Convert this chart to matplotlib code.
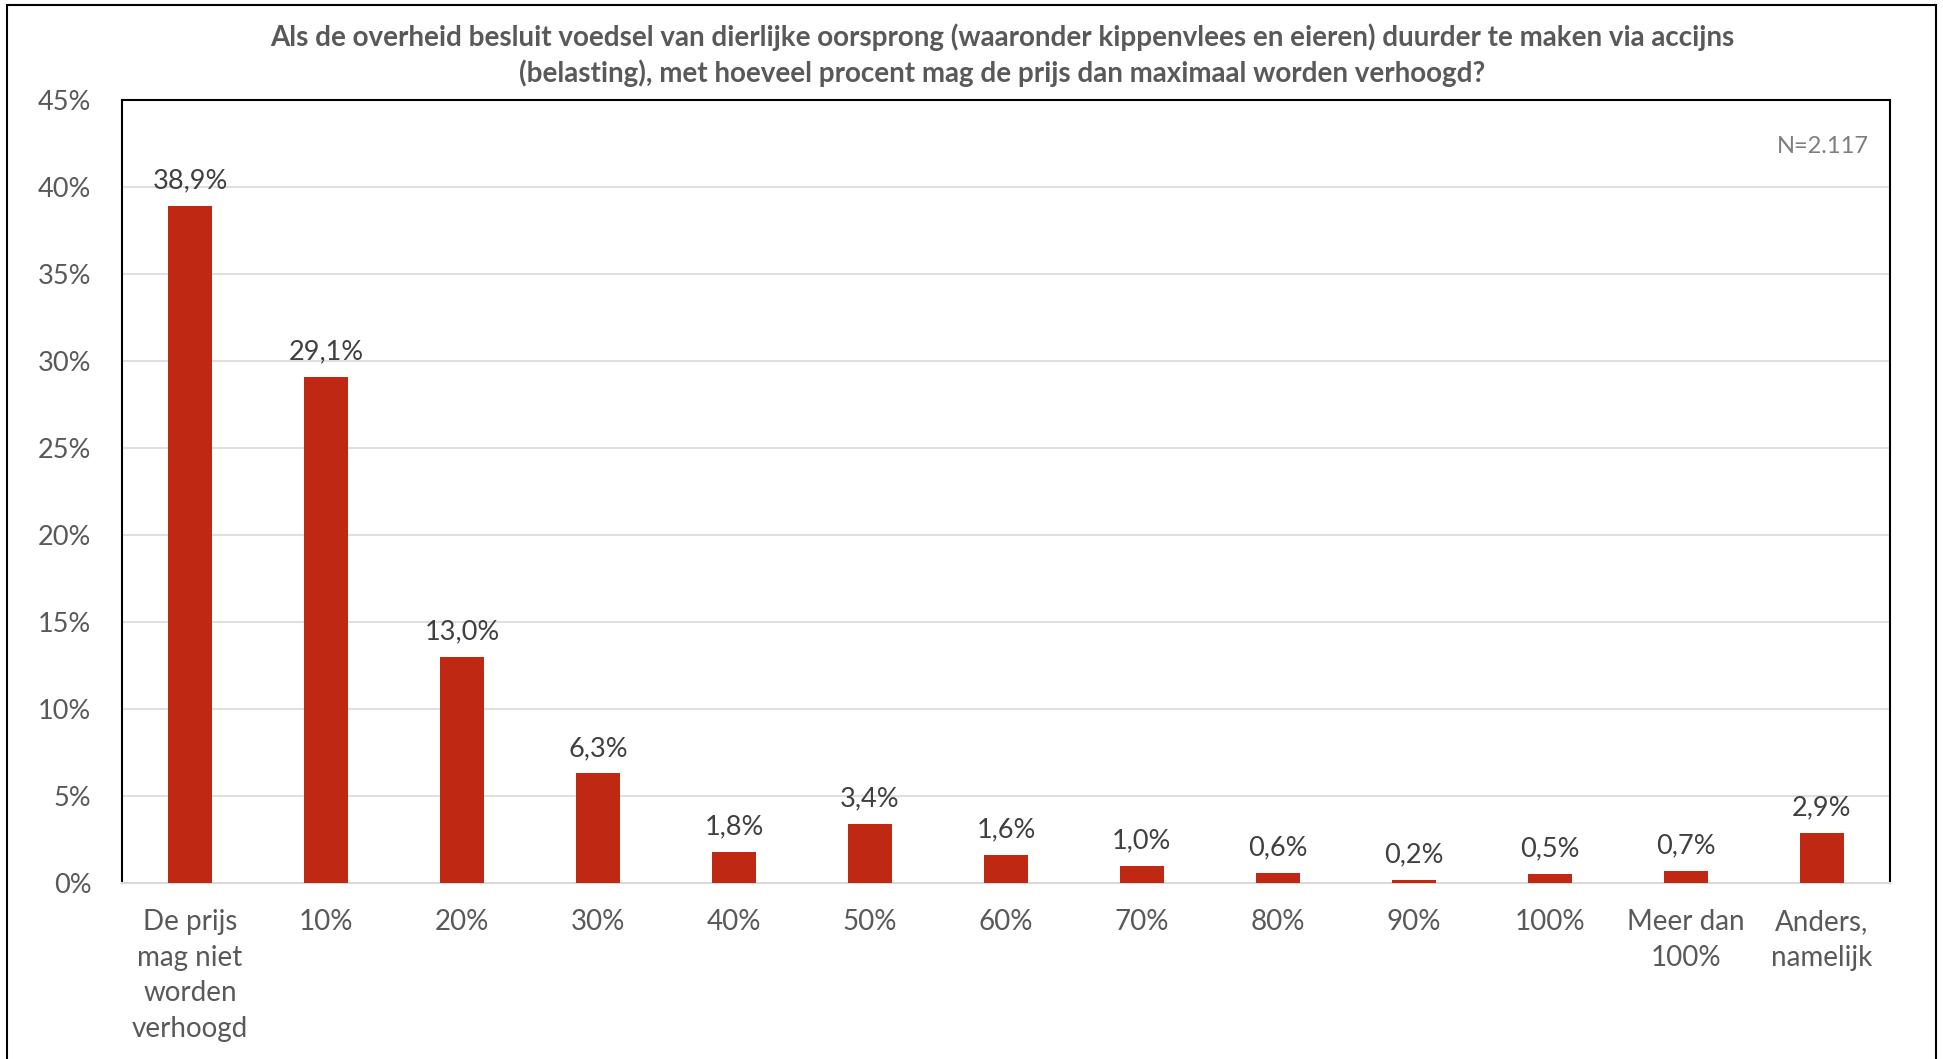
import matplotlib.pyplot as plt
import matplotlib.patches as mpatches
from matplotlib.ticker import MultipleLocator, FuncFormatter

plt.rcParams['font.family'] = ['Lato', 'DejaVu Sans']

categories = ["De prijs\nmag niet\nworden\nverhoogd", "10%", "20%", "30%", "40%", "50%",
              "60%", "70%", "80%", "90%", "100%", "Meer dan\n100%", "Anders,\nnamelijk"]
values = [38.9, 29.1, 13.0, 6.3, 1.8, 3.4, 1.6, 1.0, 0.6, 0.2, 0.5, 0.7, 2.9]
labels = ["38,9%", "29,1%", "13,0%", "6,3%", "1,8%", "3,4%", "1,6%", "1,0%",
          "0,6%", "0,2%", "0,5%", "0,7%", "2,9%"]

title = ("Als de overheid besluit voedsel van dierlijke oorsprong (waaronder kippenvlees en eieren) duurder te maken via accijns\n"
         "(belasting), met hoeveel procent mag de prijs dan maximaal worden verhoogd?")

bar_color = "#BF2812"
text_gray = "#595959"

fig = plt.figure(figsize=(19.43, 10.59), dpi=100)
ax = fig.add_axes([0.0628, 0.1662, 0.9099, 0.7394])

x = range(len(categories))
bars = ax.bar(x, values, width=0.33, color=bar_color, zorder=3)

for xi, v, lab in zip(x, values, labels):
    ax.annotate(lab, (xi, v), xytext=(0, 9), textcoords="offset points",
                ha="center", va="bottom", fontsize=19.5, color="#404040")

ax.set_xlim(-0.5, len(categories) - 0.5)
ax.set_ylim(0, 45)
ax.yaxis.set_major_locator(MultipleLocator(5))
ax.yaxis.set_major_formatter(FuncFormatter(lambda v, p: f"{int(v)}%"))
ax.set_xticks(list(x))
ax.set_xticklabels(categories, linespacing=1.45)
ax.tick_params(axis="both", length=0, labelcolor=text_gray)
ax.tick_params(axis="x", pad=19, labelsize=20)
ax.tick_params(axis="y", pad=22, labelsize=19.5)
ax.grid(axis="y", color="#D9D9D9", linewidth=1.2, zorder=0)

for side in ["left", "top", "right"]:
    ax.spines[side].set_color("black")
    ax.spines[side].set_linewidth(1.5)
ax.spines["bottom"].set_color("#D9D9D9")
ax.spines["bottom"].set_linewidth(1.5)

ax.text(0.988, 0.94, "N=2.117", transform=ax.transAxes, ha="right", va="center",
        fontsize=17, color="#7F7F7F")

fig.text(0.5157, 0.948, title, ha="center", va="center", fontsize=20,
         fontweight="bold", color=text_gray, linespacing=1.4)

border = mpatches.Rectangle((7 / 1943, -0.05), (1936 - 7) / 1943, 1.05 - 5 / 1059,
                            transform=fig.transFigure, fill=False,
                            edgecolor="black", linewidth=1.5)
fig.add_artist(border)

fig.savefig("out.png", dpi=100)
